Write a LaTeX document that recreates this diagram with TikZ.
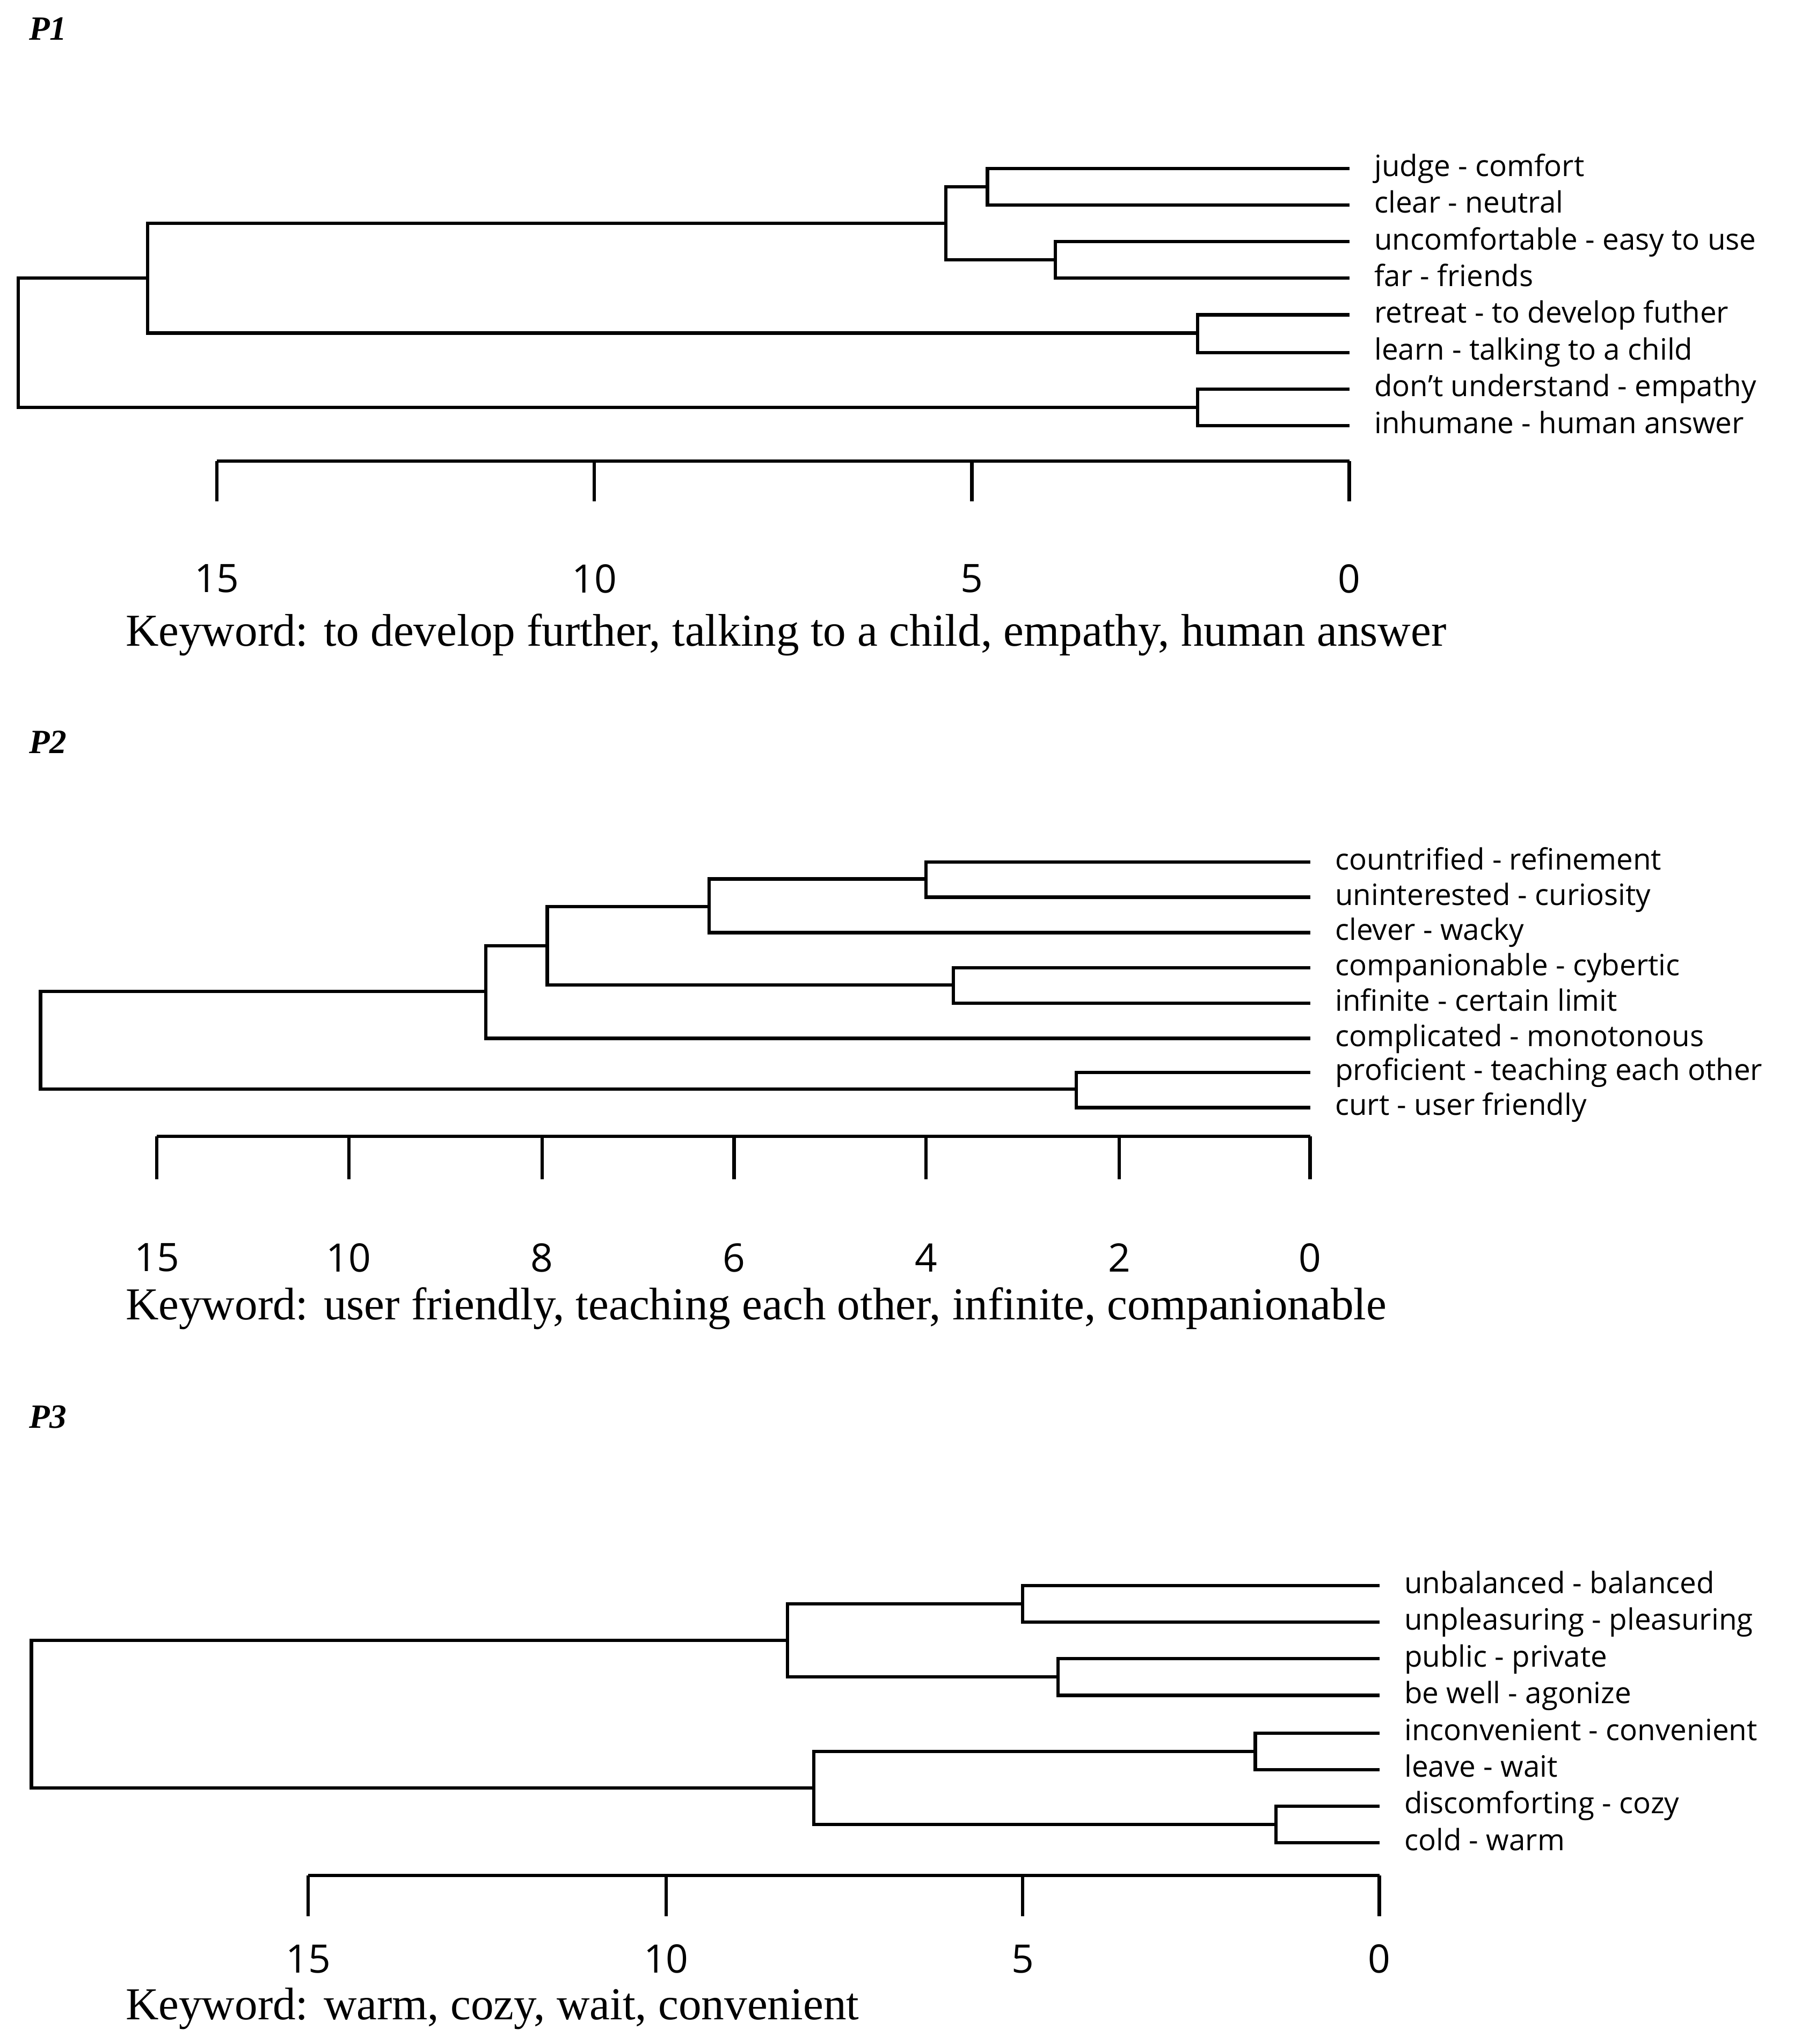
\documentclass[tikz,border=0pt]{standalone}
\usepackage{fontspec}
\setmainfont{Liberation Serif}
\newfontfamily\lab{Open Sans}
\begin{document}
\begin{tikzpicture}[x=1pt,y=-1pt,
  br/.style={line width=2.6pt},
  leaf/.style={anchor=west,font=\lab\fontsize{22.5}{25}\selectfont,inner sep=0,text height=17pt,text depth=5pt},
  tick/.style={font=\lab\fontsize{30}{34}\selectfont,inner sep=0},
  captext/.style={anchor=west,font=\fontsize{35}{40}\selectfont,inner sep=0},
  ttl/.style={anchor=west,font=\bfseries\itshape\fontsize{26}{30}\selectfont,inner sep=0}]
\useasboundingbox (0,0) rectangle (1390,1565);
% ---------- P1
\node[ttl] (t1) at (22,22) {P1};
\foreach \t [count=\i] in {judge - comfort,clear - neutral,uncomfortable - easy to use,far - friends,retreat - to develop futher,learn - talking to a child,don’t understand - empathy,inhumane - human answer}{
  \pgfmathsetmacro\yy{129+28.1*(\i-1)}
  \node[leaf] (a\i) at (1052,\yy) {\t};}
\draw[br] (1033,129)-|(756,157)--(1033,157);
\draw[br] (1033,185)-|(808,213)--(1033,213);
\draw[br] (756,143)-|(724,199)--(808,199);
\draw[br] (1033,241)-|(917,270)--(1033,270);
\draw[br] (724,171)-|(113,255)--(917,255);
\draw[br] (1033,298)-|(917,326)--(1033,326);
\draw[br] (113,213)-|(14,312)--(917,312);
\draw[br] (166,353)--(1033,353);
\foreach \x/\l in {166/15,455/10,744/5,1033/0}{
  \draw[br] (\x,353)--(\x,384);
  \node[tick] (n1\l) at (\x,443) {\l};}
\node[captext] (c1) at (96,486) {Keyword: to develop further, talking to a child, empathy, human answer};
% ---------- P2
\node[ttl] (t2) at (22,568) {P2};
\foreach \t/\yy [count=\i] in {countrified - refinement/660,uninterested - curiosity/687,clever - wacky/714,companionable - cybertic/741,infinite - certain limit/768,complicated - monotonous/795,proficient - teaching each other/821,curt - user friendly/848}{
  \node[leaf] (b\i) at (1022,\yy) {\t};}
\draw[br] (1003,660)-|(709,687)--(1003,687);
\draw[br] (709,673)-|(543,714)--(1003,714);
\draw[br] (1003,741)-|(730,768)--(1003,768);
\draw[br] (543,694)-|(419,754)--(730,754);
\draw[br] (419,724)-|(372,795)--(1003,795);
\draw[br] (1003,821)-|(824,848)--(1003,848);
\draw[br] (372,759)-|(31,834)--(824,834);
\draw[br] (120,870)--(1003,870);
\foreach \x/\l in {120/15,267/10,415/8,562/6,709/4,857/2,1003/0}{
  \draw[br] (\x,870)--(\x,903);
  \node[tick] (n2\l) at (\x,963) {\l};}
\node[captext] (c2) at (96,1002) {Keyword: user friendly, teaching each other, infinite, companionable};
% ---------- P3
\node[ttl] (t3) at (22,1085) {P3};
\foreach \t [count=\i] in {unbalanced - balanced,unpleasuring - pleasuring,public - private,be well - agonize,inconvenient - convenient,leave - wait,discomforting - cozy,cold - warm}{
  \pgfmathsetmacro\yy{1214+28.1*(\i-1)}
  \node[leaf] (c\i) at (1075,\yy) {\t};}
\draw[br] (1056,1214)-|(783,1242)--(1056,1242);
\draw[br] (1056,1270)-|(810,1298)--(1056,1298);
\draw[br] (783,1228)-|(603,1284)--(810,1284);
\draw[br] (1056,1327)-|(961,1355)--(1056,1355);
\draw[br] (1056,1383)-|(977,1411)--(1056,1411);
\draw[br] (961,1341)-|(623,1397)--(977,1397);
\draw[br] (603,1256)-|(24,1369)--(623,1369);
\draw[br] (236,1436)--(1056,1436);
\foreach \x/\l in {236/15,510/10,783/5,1056/0}{
  \draw[br] (\x,1436)--(\x,1467);
  \node[tick] (n3\l) at (\x,1500) {\l};}
\node[captext] (k3) at (96,1538) {Keyword: warm, cozy, wait, convenient};
\end{tikzpicture}
\end{document}
